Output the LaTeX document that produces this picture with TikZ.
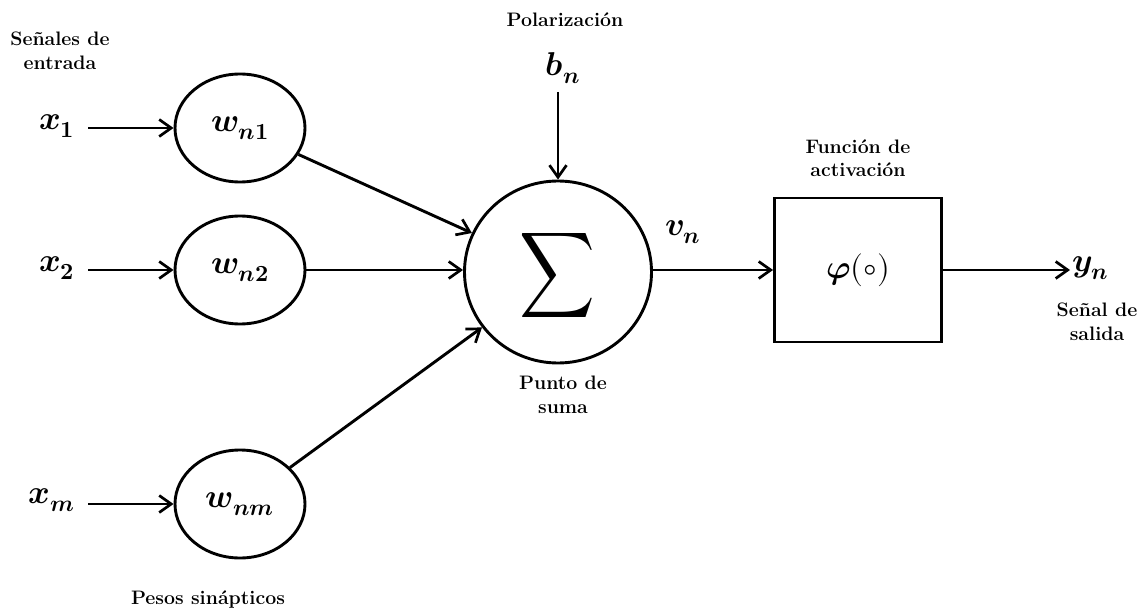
\documentclass[tikz,border=0pt]{standalone}
\usepackage{fontspec}
\usepackage{unicode-math}
\setmathfont{Latin Modern Math}
\usetikzlibrary{arrows.meta,shapes.geometric}
\newcommand{\bi}[1]{\symbfit{#1}}
\begin{document}
\begin{tikzpicture}[x=1pt,y=-1pt,
  line width=2.9pt,
  lbl/.style={font=\fontsize{19.5}{23.5}\selectfont\bfseries, align=center, inner sep=0pt},
  sym/.style={font=\fontsize{33}{36}\selectfont, inner sep=0pt},
  wnode/.style={draw, ellipse, minimum width=130pt, minimum height=108pt, inner sep=0pt, font=\fontsize{33}{36}\selectfont},
  conn/.style={-{Straight Barb[length=12pt,width=17pt,line width=2.7pt]}}
]
\useasboundingbox (0,0) rectangle (1137,612);
% input labels
\node[lbl] (inlbl) at (60,51) {Señales de\\entrada};
\node[sym] (x1) at (57,126) {$\bi{x}_{\symbf{1}}$};
\node[sym] (x2) at (57,268) {$\bi{x}_{\symbf{2}}$};
\node[sym] (xm) at (52,500) {$\bi{x}_{\bi{m}}$};
\node[wnode] (w1) at (240,128) {$\bi{w}_{\bi{n}\symbf{1}}$};
\node[wnode] (w2) at (240,270) {$\bi{w}_{\bi{n}\symbf{2}}$};
\node[wnode] (wm) at (240,504) {$\bi{w}_{\bi{nm}}$};
\node[lbl] (pesos) at (208,600) {Pesos sinápticos};
\coordinate (x1s) at (88,128);
\coordinate (x2s) at (88,270);
\coordinate (xms) at (88,504);
% summation
\node[draw, ellipse, minimum width=187pt, minimum height=182pt, inner sep=0pt] (sum) at (558,272) {};
\node[inner sep=0pt] (sig) at (557,275) {\scalebox{1.05}[1.2]{\fontsize{50}{54}\selectfont$\displaystyle\sum$}};
\node[lbl] (pol) at (565,20) {Polarización};
\node[sym] (bn) at (563,68) {$\bi{b}_{\bi{n}}$};
\coordinate (bns) at (558,92);
\node[lbl] (punto) at (563,395) {Punto de\\suma};
% activation
\node[draw, minimum width=167pt, minimum height=144pt, inner sep=0pt] (act) at (858,270) {};
\node[sym] (phi) at (858,270) {$\bi{\varphi}(\circ)$};
\node[lbl] (actlbl) at (858,158) {Función de\\activación};
\node[sym] (vn) at (683,232) {$\bi{v}_{\bi{n}}$};
\coordinate (yend) at (1070,270);
\node[sym, anchor=west] (yn) at (1071,268) {$\bi{y}_{\bi{n}}$};
\node[lbl] (sal) at (1097,322) {Señal de\\salida};
% connectors
\draw[conn] (x1s) -- (w1.west);
\draw[conn] (x2s) -- (w2.west);
\draw[conn] (xms) -- (wm.west);
\draw[conn] (w1) -- (sum);
\draw[conn] (w2.east) -- (sum.west |- w2.east);
\draw[conn] (wm) -- (sum);
\draw[conn] (bns) -- (sum.north);
\draw[conn] (sum.east |- act.west) -- (act.west);
\draw[conn] (act.east) -- (yend);
\end{tikzpicture}
\end{document}
